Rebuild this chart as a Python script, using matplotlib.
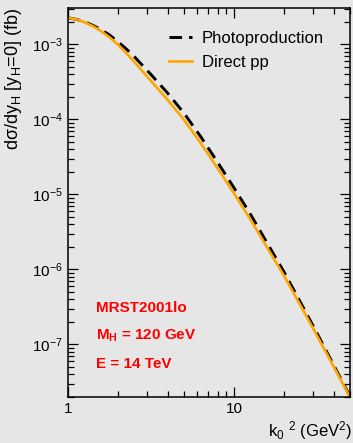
import matplotlib
matplotlib.use("Agg")
from matplotlib import pyplot as plt
from matplotlib.ticker import LogLocator, NullFormatter

plt.rcParams["font.family"] = ["Liberation Sans", "DejaVu Sans"]
plt.rcParams["mathtext.fontset"] = "custom"
plt.rcParams["mathtext.rm"] = "Liberation Sans"
plt.rcParams["mathtext.it"] = "Liberation Sans:italic"
plt.rcParams["mathtext.bf"] = "Liberation Sans:bold"
plt.rcParams["mathtext.default"] = "regular"

# k0^2 (GeV^2)
k2 = [1.0, 1.12, 1.26, 1.41, 1.58, 1.78, 2.0, 2.24, 2.51, 3.16, 3.98, 5.01,
      6.31, 7.94, 10.0, 12.6, 15.8, 20.0, 25.1, 31.6, 39.8, 50.0]

# dsigma/dy_H [y_H=0] (fb)
direct_pp = [2.26e-3, 2.15e-3, 1.97e-3, 1.75e-3, 1.50e-3, 1.24e-3, 9.89e-4,
             7.67e-4, 5.82e-4, 3.25e-4, 1.82e-4, 9.77e-5, 4.81e-5, 2.25e-5,
             1.03e-5, 4.57e-6, 1.97e-6, 8.23e-7, 3.33e-7, 1.31e-7, 5.08e-8,
             1.97e-8]
photoprod = [2.26e-3, 2.15e-3, 2.00e-3, 1.79e-3, 1.57e-3, 1.33e-3, 1.08e-3,
             8.71e-4, 6.84e-4, 3.96e-4, 2.24e-4, 1.20e-4, 5.85e-5, 2.71e-5,
             1.22e-5, 5.37e-6, 2.26e-6, 9.24e-7, 3.66e-7, 1.41e-7, 5.31e-8,
             2.02e-8]

info = ["MRST2001lo", r"M$_{\mathbf{H}}$ = 120 GeV", "E = 14 TeV"]

bg = "#e6e6e6"
fig = plt.figure(figsize=(3.53, 4.43), dpi=100, facecolor=bg)
ax = fig.add_axes([0.1926, 0.1045, 0.7989, 0.8775], facecolor=bg)

ax.plot(k2, photoprod, color="black", lw=2.1, linestyle=(0, (4.3, 2.4)),
        label="Photoproduction")
ax.plot(k2, direct_pp, color="#ffa500", lw=1.9, label="Direct pp")

ax.set_xscale("log")
ax.set_yscale("log")
ax.set_xlim(1, 50)
ax.set_ylim(2.0e-8, 3.05e-3)

ax.set_xticks([1, 10], ["1", "10"])
ax.xaxis.set_minor_locator(LogLocator(base=10, subs=range(2, 10)))
ax.xaxis.set_minor_formatter(NullFormatter())
ax.yaxis.set_minor_locator(LogLocator(base=10, subs=range(2, 10), numticks=20))
ax.yaxis.set_minor_formatter(NullFormatter())

ax.tick_params(which="both", direction="in", top=True, right=True,
               labelsize=11, width=0.9, colors="black")
ax.tick_params(which="major", length=7.2)
ax.tick_params(which="minor", length=4.3)
ax.tick_params(axis="y", pad=4)
ax.tick_params(axis="x", pad=4)
for s in ax.spines.values():
    s.set_linewidth(1.1)

fig.text(14 / 353, 0.982, r"dσ/dy$_\mathregular{H}$ [y$_\mathregular{H}$=0] (fb)",
         rotation=90, ha="center", va="top", fontsize=13)
fig.text(352 / 353, 1 - 431 / 443, r"k$_0$ $^2$ (GeV$^2$)",
         ha="right", va="center", fontsize=12)

leg = ax.legend(loc="upper left", bbox_to_anchor=(169 / 353, 1 - 31 / 443),
                bbox_transform=fig.transFigure, frameon=False, fontsize=12,
                handlelength=1.38, handletextpad=0.6, labelspacing=0.55,
                borderaxespad=0, borderpad=0)

for i, t in enumerate(info):
    fig.text(96 / 353, 1 - (308 + 28 * i) / 443, t, color="red",
             fontsize=11, fontweight="bold", ha="left", va="center")

fig.savefig("out.png", dpi=100, facecolor=bg)
